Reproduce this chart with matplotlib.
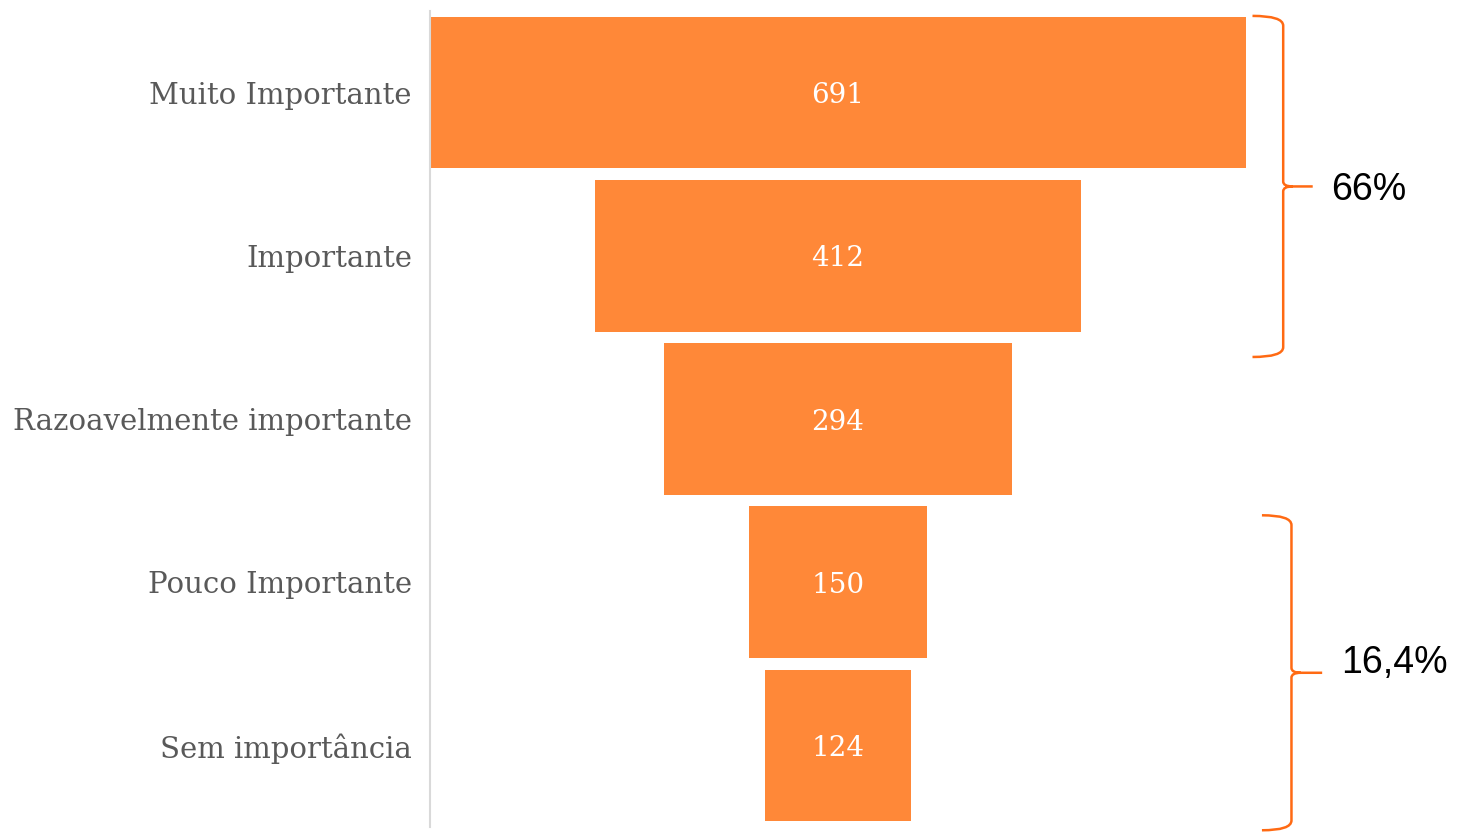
import matplotlib
matplotlib.use('Agg')
import matplotlib.pyplot as plt
from matplotlib.path import Path
from matplotlib.patches import PathPatch

# Funnel data
categories = ['Muito Importante', 'Importante', 'Razoavelmente importante',
              'Pouco Importante', 'Sem importância']
values = [691, 412, 294, 150, 124]

# Brace groups: (first category, last category, label)
groups = [(0, 1, '66%'), (3, 4, '16,4%')]

bar_color = '#FF8838'
brace_color = '#FF6A13'

fig = plt.figure(figsize=(14.6, 8.32), dpi=100)
ax = fig.add_axes([430 / 1460, 5 / 832, 816 / 1460, 816 / 832])

pos = list(range(len(categories)))
lefts = [-v / 2 for v in values]
ax.barh(pos, values, left=lefts, height=0.93, color=bar_color)

for p, v in zip(pos, values):
    ax.text(0, p, str(v), ha='center', va='center_baseline', color='white',
            fontsize=20, family='DejaVu Serif')

vmax = max(values)
ax.set_xlim(-vmax / 2, vmax / 2)
ax.set_ylim(len(categories) - 0.5, -0.5)
ax.set_yticks(pos)
ax.set_yticklabels(categories, family='DejaVu Serif', fontsize=21, color='#595959')
ax.tick_params(axis='y', length=0, pad=13)
ax.set_xticks([])
for s in ['top', 'right', 'bottom']:
    ax.spines[s].set_visible(False)
ax.spines['left'].set_color('#d9d9d9')
ax.spines['left'].set_linewidth(1.5)


def brace(ax, y0, y1, x0, xv, xt, r=0.06, rx=8):
    ym = (y0 + y1) / 2
    verts = [(x0, y0), (xv, y0), (xv, y0 + r),
             (xv, ym - r / 2), (xv, ym), (xv + rx, ym),
             (xt, ym), (xv + rx, ym),
             (xv, ym), (xv, ym + r / 2),
             (xv, y1 - r), (xv, y1), (x0, y1)]
    codes = [Path.MOVETO, Path.CURVE3, Path.CURVE3,
             Path.LINETO, Path.CURVE3, Path.CURVE3,
             Path.LINETO, Path.MOVETO,
             Path.CURVE3, Path.CURVE3,
             Path.LINETO, Path.CURVE3, Path.CURVE3]
    ax.add_patch(PathPatch(Path(verts, codes), fill=False, edgecolor=brace_color,
                           lw=1.8, clip_on=False))
    return ym


brace_x = [(351, 377, 402), (359, 384, 410)]
brace_pad = [(-0.47, 0.62), (-0.41, 0.52)]
text_dy = [0.02, -0.06]
for (a, b, lab), (x0, xv, xt), (pa, pb), dy in zip(groups, brace_x, brace_pad, text_dy):
    ym = brace(ax, a + pa, b + pb, x0, xv, xt)
    ax.text(xt + 16, ym + dy, lab, ha='left', va='center', fontsize=27,
            family='Liberation Sans', color='black')

fig.savefig('out.png', dpi=100)
